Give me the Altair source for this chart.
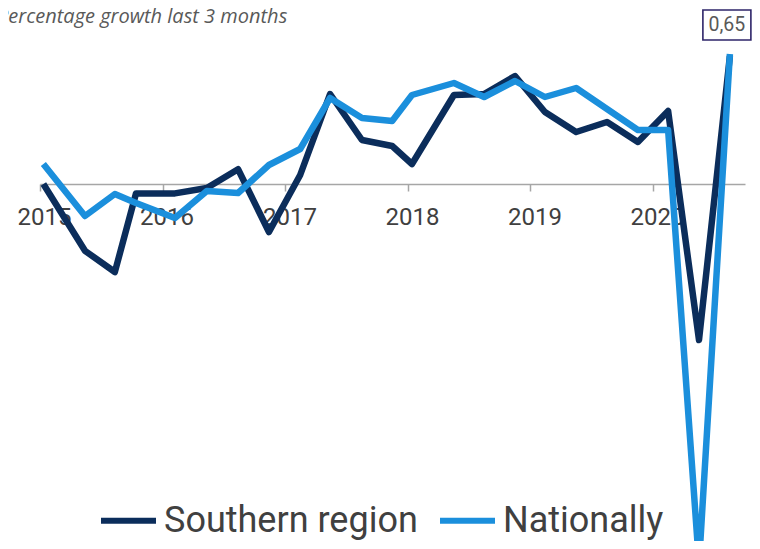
import altair as alt
import pandas as pd

dates = ["2015-01-11", "2015-05-15", "2015-08-12", "2015-10-14",
         "2016-02-07", "2016-05-12", "2016-08-13", "2016-11-13",
         "2017-02-14", "2017-05-14", "2017-08-17", "2017-11-15",
         "2018-01-13", "2018-05-18", "2018-08-16", "2018-11-16",
         "2019-02-13", "2019-05-17", "2019-08-17", "2019-11-17",
         "2020-02-15", "2020-05-17", "2020-08-17"]
southern = [0.0, -0.334, -0.44, -0.047, -0.047, -0.02, 0.074, -0.24,
            0.045, 0.45, 0.22, 0.19, 0.10, 0.445, 0.45, 0.54,
            0.36, 0.26, 0.31, 0.21, 0.365, -0.78, 0.64]
national = [0.10, -0.16, -0.05, -0.095, -0.17, -0.035, -0.045, 0.095,
            0.175, 0.43, 0.33, 0.315, 0.445, 0.505, 0.435, 0.515,
            0.435, 0.48, 0.375, 0.27, 0.27, -1.9, 0.65]
series_names = ["Southern region", "Nationally"]
series_colors = ["#0b2d5b", "#1b8fdc"]
year_ticks = [2015, 2016, 2017, 2018, 2019, 2020]
title_text = "Percentage growth last 3 months"

rows = []
for d, s, n in zip(dates, southern, national):
    rows.append({"date": d, "series": series_names[0], "value": s})
    rows.append({"date": d, "series": series_names[1], "value": n})
df = pd.DataFrame(rows)

last = pd.DataFrame([{"date": dates[-1], "value": national[-1],
                      "label": f"{national[-1]:.2f}".replace(".", ",")}])

x_scale = alt.Scale(domain=[alt.DateTime(year=2015, month=1, date=1),
                            alt.DateTime(year=2020, month=10, date=1)],
                    range=[40, 745])
y_scale = alt.Scale(domain=[-1.785, 0.92], nice=False, zero=False)

x_axis = alt.Axis(
    values=[alt.DateTime(year=y, month=1, date=1) for y in year_ticks],
    format="%Y", title=None, offset=-357, grid=False,
    domainColor="#a6a6a6", domainWidth=1.5, tickColor="#a6a6a6",
    tickWidth=1.5, tickSize=7, labelFont="Roboto", labelFontSize=24,
    labelColor="#404040", labelPadding=14, labelOffset=4,
    labelOverlap=False, labelFlush=False,
)

color = alt.Color(
    "series:N",
    scale=alt.Scale(domain=series_names, range=series_colors),
    legend=alt.Legend(
        title=None, orient="none", legendX=98, legendY=490,
        direction="horizontal", symbolType="stroke", symbolSize=3025,
        symbolStrokeWidth=6, labelFont="Roboto", labelFontSize=36,
        labelColor="#404040", labelOffset=5, columnPadding=10, padding=0,
        labelLimit=400,
    ),
)

base = alt.Chart(df).encode(
    x=alt.X("date:T", scale=x_scale, axis=x_axis),
    y=alt.Y("value:Q", scale=y_scale, axis=None),
    color=color,
)

line_s = base.transform_filter(alt.datum.series == series_names[0]).mark_line(
    strokeWidth=6.5, strokeJoin="round", clip=True)
line_n = base.transform_filter(alt.datum.series == series_names[1]).mark_line(
    strokeWidth=6.5, strokeJoin="round", clip=True)

box = alt.Chart(last).mark_point(
    shape="M-1,-0.625L1,-0.625L1,0.625L-1,0.625Z", size=2304, filled=True,
    stroke="#2e2569", strokeWidth=1.6, fill="white", fillOpacity=1,
    strokeOpacity=1, yOffset=-29, xOffset=-3, opacity=1,
).encode(x=alt.X("date:T", scale=x_scale), y=alt.Y("value:Q", scale=y_scale))

txt = alt.Chart(last).mark_text(
    font="Roboto", fontSize=19.5, color="#595959", dy=-29, dx=-3,
    align="center", baseline="middle",
).encode(x=alt.X("date:T", scale=x_scale), y=alt.Y("value:Q", scale=y_scale),
         text="label:N")

title = alt.Chart(pd.DataFrame([{"t": title_text}])).mark_text(
    font="Open Sans", fontSize=20, fontStyle="italic", color="#595959",
    align="left", baseline="alphabetic",
).encode(x=alt.value(-3), y=alt.value(23), text="t:N")

chart = alt.layer(line_s, line_n, box, txt, title).properties(
    width=752, height=541,
    autosize=alt.AutoSizeParams(type="none"),
    padding={"left": -8, "top": -8, "right": 0, "bottom": 0},
).configure_view(stroke=None).configure(background="white")

chart.save("out.html", embed_options={"renderer": "svg", "actions": False})
